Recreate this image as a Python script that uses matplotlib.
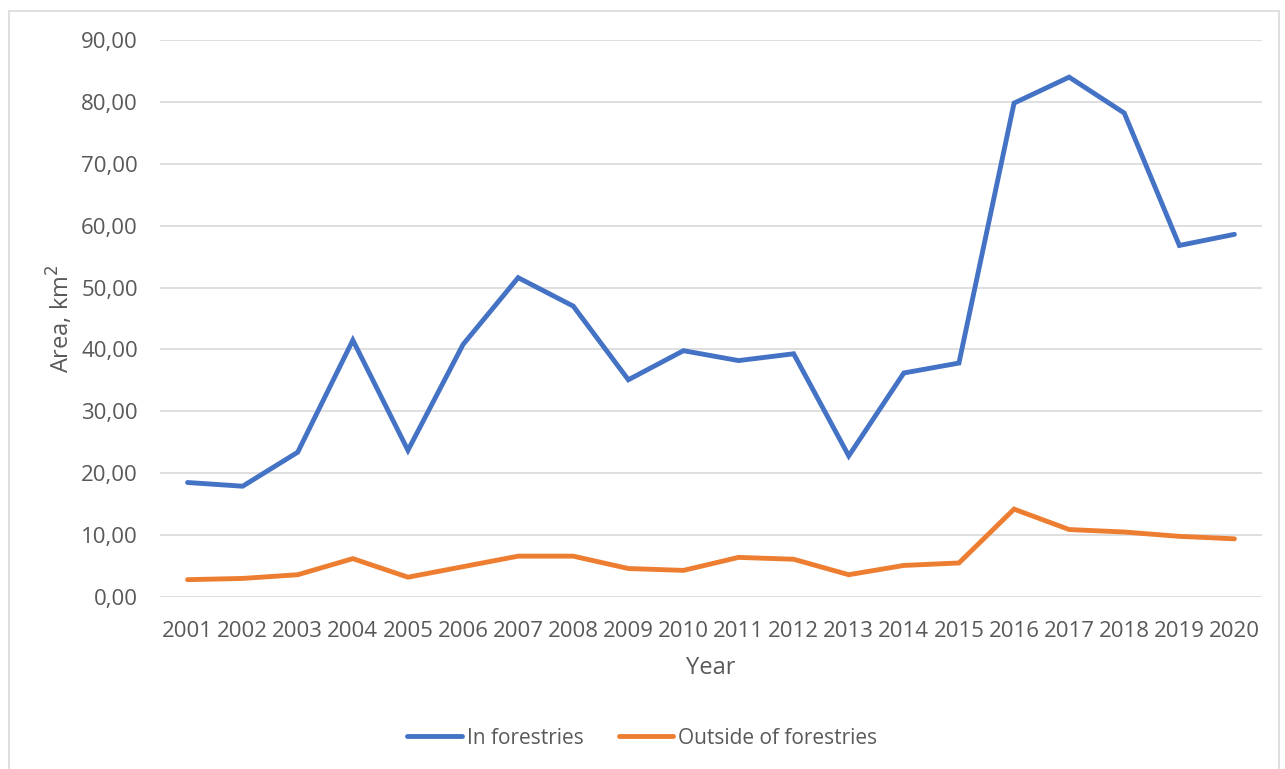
import matplotlib.pyplot as plt
from matplotlib.patches import Rectangle
from matplotlib.ticker import FuncFormatter, MultipleLocator

years = [2001, 2002, 2003, 2004, 2005, 2006, 2007, 2008, 2009, 2010,
         2011, 2012, 2013, 2014, 2015, 2016, 2017, 2018, 2019, 2020]
in_forestries = [18.5, 17.9, 23.4, 41.5, 23.7, 40.8, 51.6, 47.0, 35.1, 39.8,
                 38.2, 39.3, 22.8, 36.2, 37.8, 79.8, 84.0, 78.2, 56.8, 58.6]
outside_forestries = [2.8, 3.0, 3.6, 6.2, 3.2, 4.9, 6.6, 6.6, 4.6, 4.3,
                      6.4, 6.1, 3.6, 5.1, 5.5, 14.2, 10.9, 10.5, 9.8, 9.4]

plt.rcParams['font.family'] = ['Open Sans', 'DejaVu Sans']
text_color = '#595959'

fig = plt.figure(figsize=(12.85, 7.69), dpi=100)
fig.patches.append(Rectangle((9 / 1285, -0.05), 1270 / 1285, 1.05 - 11 / 769,
                             transform=fig.transFigure, fill=False,
                             edgecolor='#D9D9D9', linewidth=1.2))

ax = fig.add_axes([160 / 1285, 1 - 597 / 769, 1102 / 1285, 557 / 769])
x = list(range(len(years)))
ax.plot(x, in_forestries, color='#4472C4', linewidth=3.5, label='In forestries',
        solid_capstyle='round', solid_joinstyle='miter')
ax.plot(x, outside_forestries, color='#ED7D31', linewidth=3.5, label='Outside of forestries',
        solid_capstyle='round', solid_joinstyle='miter')

ax.set_xlim(-0.5, len(years) - 0.5)
ax.set_ylim(0, 90)
ax.yaxis.set_major_locator(MultipleLocator(10))
ax.yaxis.set_major_formatter(FuncFormatter(lambda v, p: f"{v:.2f}".replace('.', ',')))
ax.set_xticks(x)
ax.set_xticklabels([str(y) for y in years])
ax.grid(axis='y', color='#D9D9D9', linewidth=1.2)
ax.set_axisbelow(True)
for s in ax.spines.values():
    s.set_visible(False)
ax.tick_params(length=0, labelsize=16, colors=text_color)
ax.tick_params(axis='x', pad=17)
ax.tick_params(axis='y', pad=16)

ax.set_xlabel('Year', fontsize=17, color=text_color, labelpad=10)
ax.set_ylabel('Area, km$^2$', fontsize=17, color=text_color, labelpad=4)

fig.legend(loc='center', bbox_to_anchor=(0.5, 1 - 738 / 769), ncol=2, frameon=False,
           fontsize=15, labelcolor=text_color, handlelength=2.6, columnspacing=1.7,
           handletextpad=0.25)

fig.savefig('out.png', dpi=100)
